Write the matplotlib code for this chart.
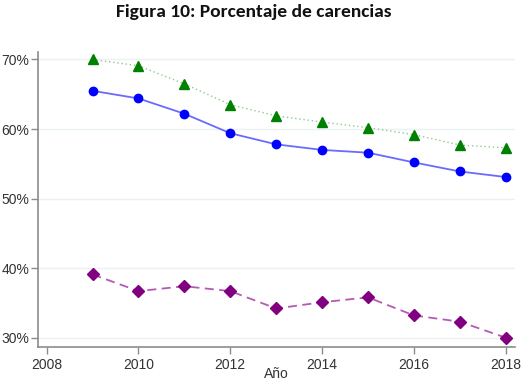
import matplotlib
matplotlib.use("Agg")
import matplotlib.pyplot as plt
from matplotlib.ticker import FuncFormatter

years = [2009, 2010, 2011, 2012, 2013, 2014, 2015, 2016, 2017, 2018]
serie_verde = [70.0, 69.1, 66.5, 63.5, 61.9, 61.0, 60.2, 59.2, 57.7, 57.3]
serie_azul = [65.5, 64.4, 62.2, 59.4, 57.8, 57.0, 56.6, 55.2, 53.9, 53.1]
serie_morada = [39.1, 36.7, 37.4, 36.7, 34.2, 35.1, 35.8, 33.2, 32.3, 30.0]

xticks = [2008, 2010, 2012, 2014, 2016, 2018]
yticks = [30, 40, 50, 60, 70]

plt.rcParams['font.family'] = ['Liberation Sans', 'DejaVu Sans']

fig = plt.figure(figsize=(5.23, 3.84), dpi=100)
ax = fig.add_axes([0.0733, 0.097, 0.9114, 0.768])

# lineas (mas claras que los marcadores)
ax.plot(years, serie_verde, color='#8fc88f', linestyle=(0, (1, 2)), lw=1.0, zorder=2)
ax.plot(years, serie_azul, color='#6a6aff', linestyle='-', lw=1.3, zorder=2)
ax.plot(years, serie_morada, color='#b45ab4', linestyle=(0, (5, 3)), lw=1.3, zorder=2)

ax.plot(years, serie_verde, linestyle='none', marker='^', ms=6.5, color='#008000', zorder=3)
ax.plot(years, serie_azul, linestyle='none', marker='o', ms=6, color='#0000ff', zorder=3)
ax.plot(years, serie_morada, linestyle='none', marker='D', ms=6, color='#800080', zorder=3)

ax.set_xlim(2007.82, 2018.2)
ax.set_ylim(28.7, 71.1)
ax.set_xticks(xticks)
ax.set_yticks(yticks)
ax.yaxis.set_major_formatter(FuncFormatter(lambda v, p: '%d%%' % v))

ax.grid(axis='y', color='#eaf2f3', lw=1.0, zorder=0)
ax.set_axisbelow(True)

for s in ['top', 'right']:
    ax.spines[s].set_visible(False)
for s in ['left', 'bottom']:
    ax.spines[s].set_color('#8c8c8c')
    ax.spines[s].set_linewidth(1.2)

ax.tick_params(axis='both', colors='#8c8c8c', labelcolor='#333333', labelsize=10,
               length=4.8, width=1.0, direction='out')
ax.tick_params(axis='y', pad=1.5)
ax.tick_params(axis='x', pad=3)

ax.set_xlabel('Año', fontsize=10, color='#333333', labelpad=-3)

fig.text(0.485, 0.968, 'Figura 10: Porcentaje de carencias', ha='center', va='center',
         fontsize=14, fontweight='bold', family=['Carlito', 'DejaVu Sans'], color='#111111')

fig.savefig('out.png', dpi=100)
